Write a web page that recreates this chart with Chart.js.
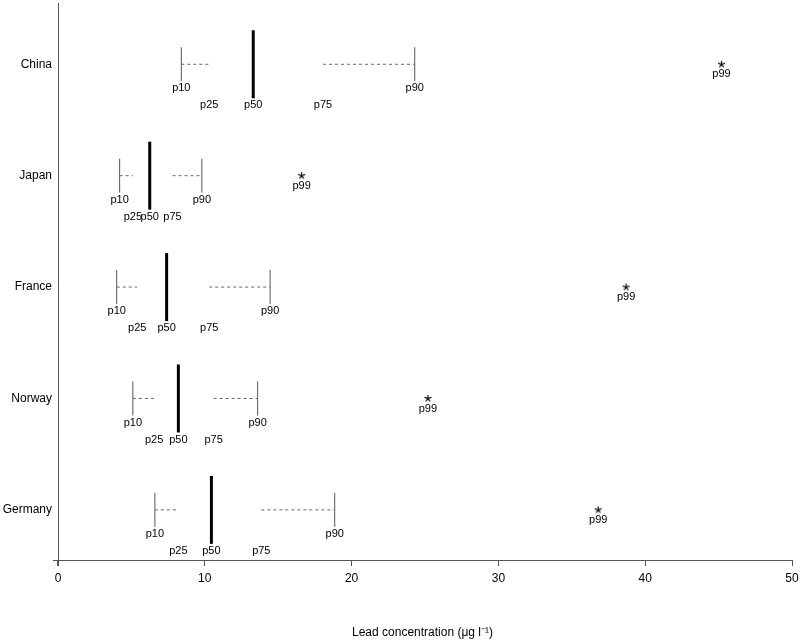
<!DOCTYPE html>
<html>
<head>
<meta charset="utf-8">
<script src="https://cdn.jsdelivr.net/npm/chart.js@4/dist/chart.umd.min.js"></script>
<style>
    body {margin: 0; background: #fff;}
    #wrap {width: 800px; height: 640px;}
</style>
</head>
<body>
<div id="wrap"><canvas id="chart"></canvas></div>
<script>
const countries = ['China', 'Japan', 'France', 'Norway', 'Germany']
const p10 = [8.4, 4.2, 4.0, 5.1, 6.6]
const p25 = [10.3, 5.1, 5.4, 6.55, 8.2]
const p50 = [13.3, 6.25, 7.4, 8.2, 10.45]
const p75 = [18.05, 7.8, 10.3, 10.6, 13.85]
const p90 = [24.3, 9.8, 14.45, 13.6, 18.85]
const p99 = [45.2, 16.6, 38.7, 25.2, 36.8]
const xTicks = [0, 10, 20, 30, 40, 50]

const font = '"Liberation Sans", Arial, Helvetica, sans-serif'
const row = i => i + 1

// small five-armed asterisk used as the p99 marker
const star = document.createElement('canvas')
star.width = 9
star.height = 9
{
    const c = star.getContext('2d')
    c.strokeStyle = '#000'
    c.lineWidth = 1.1
    c.beginPath()
    for (let k = 0; k < 5; k++) {
        const a = -Math.PI / 2 + k * 2 * Math.PI / 5
        c.moveTo(4.5, 4.5)
        c.lineTo(4.5 + Math.cos(a) * 3.6, 4.5 + Math.sin(a) * 3.6)
    }
    c.stroke()
}

const whiskers = []
countries.forEach((c, i) => {
    const base = {showLine: true, borderColor: '#666', borderWidth: 1, borderDash: [3, 3], pointRadius: 0}
    whiskers.push({...base, data: [{x: p10[i], y: row(i)}, {x: p25[i], y: row(i)}]})
    whiskers.push({...base, data: [{x: p75[i], y: row(i)}, {x: p90[i], y: row(i)}]})
})

const ends = {
    data: countries.flatMap((c, i) => [{x: p10[i], y: row(i)}, {x: p90[i], y: row(i)}]),
    pointStyle: 'line', rotation: 90, pointRadius: 17,
    borderColor: '#555', borderWidth: 1
}
const medians = {
    data: countries.map((c, i) => ({x: p50[i], y: row(i)})),
    pointStyle: 'line', rotation: 90, pointRadius: 34,
    borderColor: '#000', borderWidth: 3
}
const tops = {
    data: countries.map((c, i) => ({x: p99[i], y: row(i)})),
    pointStyle: star, pointRadius: 4.5
}

// percentile labels under the marks
const labelPlugin = {
    id: 'pctLabels',
    afterDatasetsDraw(chart) {
        const {ctx, scales: {x, y}} = chart
        ctx.save()
        ctx.font = '11px ' + font
        ctx.fillStyle = '#000'
        ctx.textAlign = 'center'
        ctx.textBaseline = 'middle'
        countries.forEach((c, i) => {
            const yc = y.getPixelForValue(row(i))
            ctx.fillText('p10', x.getPixelForValue(p10[i]), yc + 24)
            ctx.fillText('p90', x.getPixelForValue(p90[i]), yc + 24)
            ctx.fillText('p25', x.getPixelForValue(p25[i]), yc + 41)
            ctx.fillText('p50', x.getPixelForValue(p50[i]), yc + 41)
            ctx.fillText('p75', x.getPixelForValue(p75[i]), yc + 41)
            ctx.fillText('p99', x.getPixelForValue(p99[i]), yc + 10)
        })
        ctx.restore()
    }
}

// vertical axis line at x = 0, crossing the x axis
const yLinePlugin = {
    id: 'yLine',
    beforeDatasetsDraw(chart) {
        const {ctx, chartArea, scales: {x}} = chart
        const px = Math.round(x.getPixelForValue(0)) + 0.5
        ctx.save()
        ctx.strokeStyle = '#555'
        ctx.lineWidth = 1
        ctx.beginPath()
        ctx.moveTo(px, chartArea.top)
        ctx.lineTo(px, chartArea.bottom + 6)
        ctx.stroke()
        ctx.restore()
    }
}

new Chart(document.getElementById('chart'), {
    type: 'scatter',
    data: {datasets: [...whiskers, ends, medians, tops]},
    options: {
        responsive: true,
        maintainAspectRatio: false,
        animation: false,
        events: [],
        layout: {autoPadding: false, padding: {top: 3, right: 8, left: 0, bottom: 0}},
        plugins: {legend: {display: false}, tooltip: {enabled: false}},
        scales: {
            x: {
                type: 'linear', min: -0.34, max: 50,
                afterBuildTicks: s => { s.ticks = xTicks.map(v => ({value: v})) },
                afterFit: s => { s.height = 80; s.paddingLeft = 0; s.paddingRight = 0 },
                ticks: {color: '#000', font: {family: font, size: 12}, padding: 5},
                grid: {display: true, drawOnChartArea: false, drawTicks: true, tickLength: 6, color: '#555'},
                border: {display: true, color: '#555'},
                title: {display: true, text: 'Lead concentration (μg l⁻¹)', color: '#000',
                    font: {family: font, size: 12}, padding: {top: 0, bottom: 0}}
            },
            y: {
                type: 'linear', reverse: true, min: 0.45, max: 5.45,
                afterBuildTicks: s => { s.ticks = countries.map((c, i) => ({value: row(i)})) },
                afterFit: s => { s.width = 53; s.paddingTop = 0; s.paddingBottom = 0 },
                ticks: {color: '#000', font: {family: font, size: 12}, padding: 1,
                    callback: v => countries[v - 1]},
                grid: {display: false, drawTicks: false},
                border: {display: false}
            }
        }
    },
    plugins: [labelPlugin, yLinePlugin]
})
</script>
</body>
</html>
